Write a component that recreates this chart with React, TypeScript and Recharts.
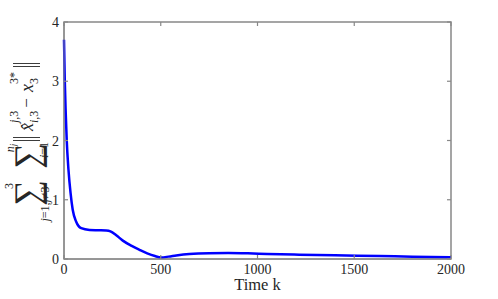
import React from "react";
import { LineChart, Line, XAxis, YAxis, ReferenceArea } from "recharts";

const steps = [0, 4, 9, 14, 23, 34, 45, 63, 89, 132, 180, 218, 240, 270, 304, 350, 390, 430, 470, 502, 540, 580, 648, 750, 850, 950, 1050, 1216, 1400, 1630, 1800, 2000];
const errorSum = [3.7, 3.02, 2.46, 2.01, 1.51, 1.11, 0.83, 0.63, 0.52, 0.49, 0.485, 0.48, 0.465, 0.4, 0.31, 0.22, 0.155, 0.095, 0.05, 0.027, 0.04, 0.06, 0.085, 0.098, 0.1, 0.095, 0.085, 0.073, 0.062, 0.05, 0.04, 0.03];
const xTicks = [0, 500, 1000, 1500, 2000];
const yTicks = [0, 1, 2, 3, 4];

const data = steps.map((k, i) => ({ k, err: errorSum[i] }));

const FONT = "Liberation Serif";
const INK = "#262626";
const AXIS = "#888888";
const W = 498;
const H = 299;
const M = { top: 22, right: 47, bottom: 0, left: 0 };
const Y_AXIS_W = 64;
const X_AXIS_H = 40;
const PLOT_W = W - M.left - M.right - Y_AXIS_W;
const PLOT_H = H - M.top - M.bottom - X_AXIS_H;

// MATLAB style: ticks point inward, mirrored on the top and right edges of the box
function XTick({ x, y, payload }: any) {
  return (
    <g>
      <line x1={x} x2={x} y1={y} y2={y - 4} stroke={AXIS} strokeWidth={1.2} />
      <line x1={x} x2={x} y1={y - PLOT_H} y2={y - PLOT_H + 4} stroke={AXIS} strokeWidth={1.2} />
      <text x={x} y={y + 15} textAnchor="middle" fill={INK} fontSize={14} fontFamily={FONT}>
        {payload.value}
      </text>
    </g>
  );
}

function YTick({ x, y, payload }: any) {
  return (
    <g>
      <line x1={x} x2={x + 4} y1={y} y2={y} stroke={AXIS} strokeWidth={1.2} />
      <line x1={x + PLOT_W} x2={x + PLOT_W - 4} y1={y} y2={y} stroke={AXIS} strokeWidth={1.2} />
      <text x={x - 5} y={y + 5} textAnchor="end" fill={INK} fontSize={14} fontFamily={FONT}>
        {payload.value}
      </text>
    </g>
  );
}

function YLabel() {
  // formula drawn rotated; local x runs up the screen, local y runs right
  const small = 12;
  return (
    <g transform="translate(30,140) rotate(-90)" fill={INK} fontFamily={FONT}>
      <text x={-53} y={9} fontSize={36} textAnchor="middle">∑</text>
      <text x={-46} y={-17} fontSize={small} textAnchor="middle">3</text>
      <text x={-64} y={19} fontSize={small} textAnchor="middle">
        <tspan fontStyle="italic">j</tspan>=1,<tspan fontStyle="italic">j</tspan>≠3
      </text>
      <text x={-16} y={9} fontSize={36} textAnchor="middle">∑</text>
      <text x={-8} y={-16} fontSize={small} textAnchor="middle">
        <tspan fontStyle="italic">n</tspan>
        <tspan fontStyle="italic" fontSize={9} dy={2}>j</tspan>
      </text>
      <text x={-10} y={18} fontSize={small} textAnchor="middle">
        <tspan fontStyle="italic">i</tspan>=1
      </text>
      <line x1={-0.5} x2={-0.5} y1={-17} y2={10} stroke={INK} strokeWidth={0.9} />
      <line x1={2.5} x2={2.5} y1={-17} y2={10} stroke={INK} strokeWidth={0.9} />
      <text x={9} y={3} fontSize={18} fontStyle="italic">x̂</text>
      <text x={17} y={-12} fontSize={small}>
        <tspan fontStyle="italic">j</tspan>,3
      </text>
      <text x={17} y={8} fontSize={small}>
        <tspan fontStyle="italic">i</tspan>,3
      </text>
      <text x={37} y={2} fontSize={17} textAnchor="middle">−</text>
      <text x={48} y={3} fontSize={18} fontStyle="italic">x</text>
      <text x={56} y={-12} fontSize={small}>3*</text>
      <text x={56} y={8} fontSize={small}>3</text>
      <line x1={73.5} x2={73.5} y1={-17} y2={10} stroke={INK} strokeWidth={0.9} />
      <line x1={76.5} x2={76.5} y1={-17} y2={10} stroke={INK} strokeWidth={0.9} />
    </g>
  );
}

export default function App() {
  return (
    <div style={{ position: "absolute", left: 0, top: 0, width: W, height: H, background: "#fff" }}>
      <LineChart width={W} height={H} data={data} margin={M}>
        <XAxis
          dataKey="k"
          type="number"
          domain={[0, 2000]}
          ticks={xTicks}
          height={X_AXIS_H}
          tick={<XTick />}
          tickLine={false}
          tickSize={0}
          tickMargin={0}
          stroke={AXIS}
          label={{ value: "Time k", position: "insideBottom", offset: 9, fill: INK, fontSize: 16.5, fontFamily: FONT }}
        />
        <YAxis
          type="number"
          domain={[0, 4]}
          ticks={yTicks}
          width={Y_AXIS_W}
          tick={<YTick />}
          tickLine={false}
          tickSize={0}
          tickMargin={0}
          stroke={AXIS}
          label={{ content: () => <YLabel /> }}
        />
        <ReferenceArea x1={0} x2={2000} y1={0} y2={4} fill="none" fillOpacity={0} stroke={AXIS} strokeWidth={1.5} strokeOpacity={1} />
        <Line type="monotone" dataKey="err" stroke="#0000ff" strokeWidth={2.5} dot={false} isAnimationActive={false} />
      </LineChart>
    </div>
  );
}
